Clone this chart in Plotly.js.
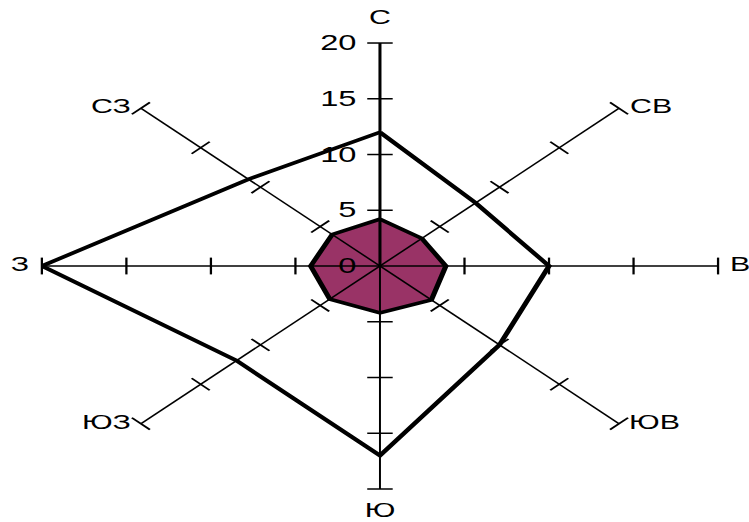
<!DOCTYPE html>
<html>
<head>
<meta charset="utf-8">
<script src="https://cdn.plot.ly/plotly-3.0.1.min.js"></script>
<style>
  html, body { margin: 0; padding: 0; background: #fff; overflow: hidden; }
  #chart { width: 494px; height: 522px; transform: scaleX(1.5162); transform-origin: 0 0; }
</style>
</head>
<body>
<div id="chart"></div>
<script>
// Directions (categories), clockwise from north
const directions = ['С', 'СВ', 'В', 'ЮВ', 'Ю', 'ЮЗ', 'З', 'СЗ'];
// Outer series (line only)
const outerValues = [12, 8, 10, 10, 17, 12, 20, 11];
// Inner series (filled)
const innerValues = [4.2, 3.5, 3.9, 4.3, 4.2, 4.2, 4.1, 4.0];
// Value axis ticks
const tickValues = [0, 5, 10, 15, 20];
const axisMax = 20;

function closed(arr) { return arr.concat([arr[0]]); }

// spokes: from 0 to max on each direction
const spokeR = [], spokeT = [];
directions.forEach(d => { spokeR.push(0, axisMax, null); spokeT.push(d, d, d); });

// tick marks crossing every spoke
const tickR = [], tickT = [], tickA = [];
directions.forEach((d, i) => {
  tickValues.filter(v => v > 0).forEach(v => { tickR.push(v); tickT.push(d); tickA.push(i * 45); });
});

// direction label placement (style only)
const labelPos = ['top center', 'middle right', 'middle right', 'middle right',
                  'bottom center', 'middle left', 'middle left', 'middle left'];
const labelPad = [21, 10, 11, 9, 19, 9, 12, 9];

const fam = 'Liberation Sans, Arial, sans-serif';

const traces = [
  { type: 'scatterpolar', r: closed(innerValues), theta: closed(directions), mode: 'lines',
    fill: 'toself', fillcolor: '#993366', line: { color: '#000', width: 3.5 }, hoverinfo: 'skip' },
  { type: 'scatterpolar', r: spokeR, theta: spokeT, mode: 'lines', connectgaps: false,
    line: { color: '#000', width: 1.3 }, hoverinfo: 'skip' },
  { type: 'scatterpolar', r: tickR, theta: tickT, mode: 'markers', cliponaxis: false,
    marker: { symbol: 'line-ew', size: 12, angle: tickA, color: '#000', line: { color: '#000', width: 1.5 } },
    hoverinfo: 'skip' },
  { type: 'scatterpolar', r: closed(outerValues), theta: closed(directions), mode: 'lines',
    line: { color: '#000', width: 3.5 }, hoverinfo: 'skip' },
  { type: 'scatterpolar', r: directions.map(() => axisMax), theta: directions, text: directions,
    mode: 'markers+text', cliponaxis: false, textposition: labelPos,
    marker: { size: labelPad, opacity: 0, color: '#fff' },
    textfont: { family: fam, size: 20, color: '#000' }, hoverinfo: 'skip' }
];

const layout = {
  width: 494, height: 522,
  margin: { l: 0, r: 0, t: 0, b: 0 },
  paper_bgcolor: '#fff',
  showlegend: false,
  font: { family: fam, color: '#000' },
  polar: {
    domain: { x: [0.0559, 0.9587], y: [0.0632, 0.9176] },
    bgcolor: 'rgba(0,0,0,0)',
    radialaxis: {
      range: [0, axisMax], tickvals: tickValues, ticktext: tickValues.map(String),
      angle: 90, side: 'counterclockwise', showgrid: false,
      showline: true, linecolor: '#000', linewidth: 2,
      ticks: 'outside', ticklen: 7, tickcolor: 'rgba(0,0,0,0)',
      tickangle: 90,
      tickfont: { size: 21.5, family: fam, color: '#000' }, layer: 'above traces'
    },
    angularaxis: {
      type: 'category', categoryarray: directions, direction: 'clockwise', rotation: 90,
      showgrid: false, showline: false, ticks: '', showticklabels: false
    }
  }
};

Plotly.newPlot('chart', traces, layout, { staticPlot: true, displayModeBar: false });
</script>
</body>
</html>
